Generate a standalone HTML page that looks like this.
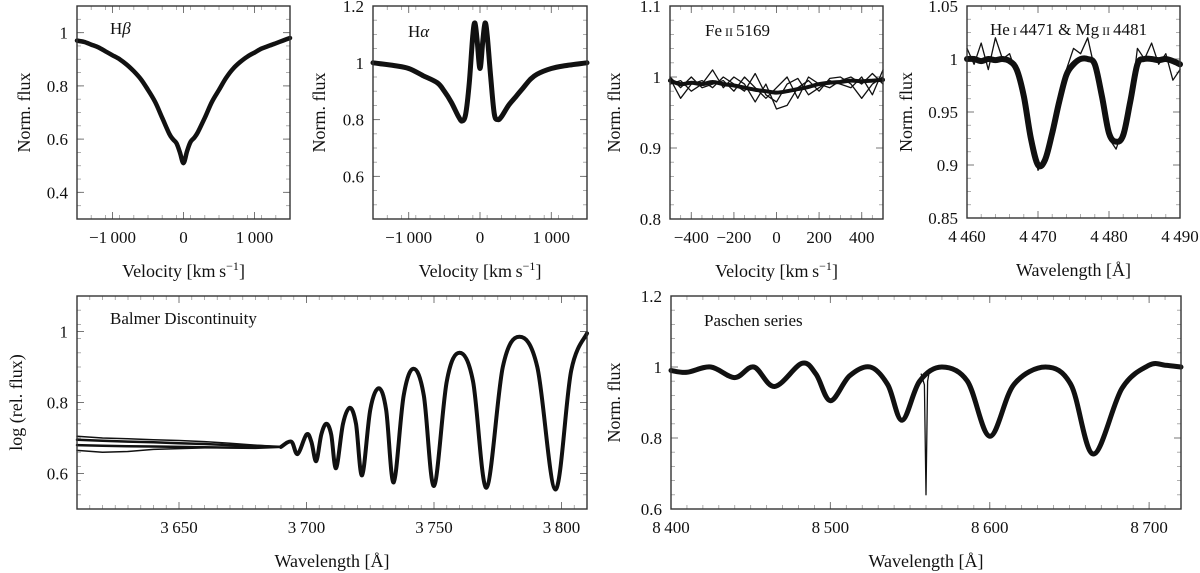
<!DOCTYPE html>
<html><head><meta charset="utf-8"><style>
html,body{margin:0;padding:0;background:#fff;}
svg{display:block;}
svg text{font-family:"Liberation Serif","DejaVu Serif",serif;}
</style></head><body>
<svg id="fig" width="1200" height="573" viewBox="0 0 1200 573" font-family="Liberation Serif, serif" xmlns="http://www.w3.org/2000/svg"></svg>
<script>
// ---- data ----
const hbVel = [-1500,-1400,-1300,-1200,-1100,-1000,-900,-800,-700,-600,-500,-400,-300,-200,-150,-100,-50,0,50,100,150,200,300,400,500,600,700,800,900,1000,1100,1200,1300,1400,1500];
const hbFlux = [0.97,0.965,0.955,0.945,0.93,0.915,0.9,0.88,0.855,0.825,0.785,0.74,0.68,0.62,0.6,0.585,0.55,0.51,0.555,0.59,0.605,0.625,0.68,0.74,0.785,0.83,0.865,0.89,0.91,0.925,0.94,0.95,0.96,0.97,0.98];
const haVel = [-1500,-1200,-1000,-800,-600,-500,-400,-300,-250,-200,-150,-100,-70,-40,0,40,70,100,150,200,250,300,400,500,600,700,800,1000,1200,1500];
const haFlux = [1.0,0.99,0.98,0.955,0.93,0.9,0.86,0.81,0.795,0.82,0.93,1.1,1.14,1.08,0.98,1.08,1.14,1.1,0.95,0.82,0.8,0.81,0.85,0.88,0.91,0.94,0.96,0.98,0.99,1.0];
const feVel = [-500,-450,-400,-350,-300,-250,-200,-150,-100,-50,0,50,100,150,200,250,300,350,400,450,500];
const feFlux1 = [0.995,0.99,0.992,0.99,0.993,0.99,0.988,0.985,0.982,0.98,0.978,0.98,0.983,0.986,0.99,0.992,0.993,0.995,0.994,0.995,0.996];
const feFlux2 = [0.998,0.97,0.99,0.995,0.985,1.0,0.99,0.98,1.005,0.975,0.965,0.99,0.998,0.975,0.985,0.995,0.99,0.985,1.0,0.975,1.01];
const feFlux3 = [0.99,0.995,0.98,0.99,1.01,0.985,1.0,0.99,0.965,0.99,0.955,0.96,0.985,0.995,0.98,0.998,1.0,0.99,0.97,0.99,1.0];
const feFlux4 = [1.0,0.985,1.0,0.985,0.99,0.995,0.98,1.0,0.985,0.97,0.985,1.0,0.97,1.0,0.99,0.985,0.995,1.0,0.99,1.005,0.99];
const heWave = [4460,4461,4462,4463,4464,4465,4466,4467,4468,4469,4470,4471,4472,4473,4474,4475,4476,4477,4478,4479,4480,4481,4482,4483,4484,4485,4486,4487,4488,4489,4490];
const heFlux = [1.0,1.0,0.998,1.0,0.999,1.0,0.998,0.99,0.965,0.925,0.9,0.905,0.93,0.96,0.985,0.995,1.0,1.0,0.995,0.965,0.93,0.922,0.928,0.96,0.995,1.0,1.0,0.999,1.0,0.998,0.995];
const heNoisy = [1.01,0.995,1.015,0.99,1.02,1.0,1.005,0.985,0.96,0.93,0.895,0.91,0.925,0.965,0.99,1.01,1.005,1.02,0.99,0.97,0.925,0.915,0.935,0.955,1.01,1.0,1.015,0.995,1.005,0.98,0.99];
const bdWave = [3690,3694,3696.5,3700,3701.9,3703.8,3705.8,3707.8,3709.7,3711.6,3714.3,3717,3719.4,3721.8,3725,3728.3,3731.2,3734.2,3738.1,3742,3746,3750,3755,3760,3765.3,3770.6,3777,3783.5,3790.5,3797.6,3803.8,3810];
const bdFlux = [0.675,0.69,0.655,0.71,0.69,0.635,0.71,0.74,0.71,0.615,0.74,0.785,0.74,0.595,0.78,0.84,0.78,0.575,0.82,0.895,0.82,0.565,0.86,0.94,0.86,0.56,0.9,0.985,0.9,0.555,0.89,0.995];
const bdFlatWave = [3610,3620,3630,3640,3650,3660,3670,3680,3690];
const bdFlatA = [0.705,0.70,0.698,0.695,0.693,0.69,0.685,0.68,0.675];
const bdFlatB = [0.695,0.692,0.69,0.688,0.685,0.683,0.68,0.678,0.675];
const bdFlatC = [0.68,0.678,0.677,0.676,0.675,0.674,0.673,0.672,0.675];
const bdFlatD = [0.665,0.66,0.662,0.668,0.67,0.672,0.673,0.674,0.675];
const paWave = [8400,8410,8425,8440,8452,8465,8482,8491,8500,8512,8525,8536,8545,8556,8570,8586,8600,8615,8635,8651,8665,8683,8700,8710,8720];
const paFlux = [0.99,0.985,1.0,0.97,1.0,0.945,1.01,0.98,0.905,0.975,1.0,0.95,0.85,0.96,1.0,0.96,0.805,0.95,1.0,0.95,0.755,0.94,1.005,1.005,1.0];
const paSpikeWave = [8557,8559,8560,8561,8562];
const paSpikeFlux = [0.98,0.95,0.64,0.96,0.985];

const svg = document.getElementById('fig');
const NS = 'http://www.w3.org/2000/svg';
function mk(tag, attrs, parent){const e=document.createElementNS(NS,tag);for(const k in attrs)e.setAttribute(k,attrs[k]);(parent||svg).appendChild(e);return e;}
function fmt(v){let s=Math.abs(v).toString();if(Math.abs(v)>=1000){s=s.slice(0,-3)+'\u2009'+s.slice(-3);}return (v<0?'\u2212':'')+s;}
function smoothPath(P){
  let d='M'+P[0][0].toFixed(1)+','+P[0][1].toFixed(1);
  for(let i=0;i<P.length-1;i++){
    const p0=P[Math.max(0,i-1)],p1=P[i],p2=P[i+1],p3=P[Math.min(P.length-1,i+2)];
    const c1=[p1[0]+(p2[0]-p0[0])/6,p1[1]+(p2[1]-p0[1])/6];
    const c2=[p2[0]-(p3[0]-p1[0])/6,p2[1]-(p3[1]-p1[1])/6];
    d+='C'+c1[0].toFixed(1)+','+c1[1].toFixed(1)+' '+c2[0].toFixed(1)+','+c2[1].toFixed(1)+' '+p2[0].toFixed(1)+','+p2[1].toFixed(1);
  }
  return d;
}

function makePanel(p){
  const g = mk('g',{});
  
  
  const sx = v => p.x0 + (v-p.xmin)/(p.xmax-p.xmin)*(p.x1-p.x0);
  const sy = v => p.y1 - (v-p.ymin)/(p.ymax-p.ymin)*(p.y1-p.y0);
  const mt = mk('g',{stroke:'#999','stroke-width':0.8},g);
  
  
  for(let v=p.xmin; v<=p.xmax+1e-9; v+=p.xminor){const X=sx(v);mk('line',{x1:X,x2:X,y1:p.y1,y2:p.y1-4},mt);mk('line',{x1:X,x2:X,y1:p.y0,y2:p.y0+4},mt);}
  for(let v=p.ymin; v<=p.ymax+1e-9; v+=p.yminor){const Y=sy(v);mk('line',{x1:p.x0,x2:p.x0+4,y1:Y,y2:Y},mt);mk('line',{x1:p.x1,x2:p.x1-4,y1:Y,y2:Y},mt);}
  const tk = mk('g',{stroke:'#777','stroke-width':1},g);
  
  
  p.xticks.forEach(v=>{const X=sx(v);mk('line',{x1:X,x2:X,y1:p.y1,y2:p.y1-7},tk);mk('line',{x1:X,x2:X,y1:p.y0,y2:p.y0+7},tk);
    const t=mk('text',{x:X,y:p.y1+24,'text-anchor':'middle','font-size':17,fill:'#111'},g);t.textContent=fmt(v);
    
    });
  p.yticks.forEach(v=>{const Y=sy(v);mk('line',{x1:p.x0,x2:p.x0+7,y1:Y,y2:Y},tk);mk('line',{x1:p.x1,x2:p.x1-7,y1:Y,y2:Y},tk);
    const t=mk('text',{x:p.x0-9,y:Y+6,'text-anchor':'end','font-size':17,fill:'#111'},g);t.textContent=p.ylab(v);
    
    });
  p.series.forEach(s=>{
    const P=s.x.map((xv,i)=>[sx(xv),sy(s.y[i])]);
    let d;
    if(s.smooth){d=smoothPath(P);}else{d='';P.forEach((q,i)=>{d+=(i?'L':'M')+q[0].toFixed(1)+','+q[1].toFixed(1);});}
    const path=mk('path',{d:d,fill:'none',stroke:'#111','stroke-width':s.w,'stroke-linejoin':'round','stroke-linecap':'round'},g);
    
    
  });
  const fr=mk('rect',{x:p.x0,y:p.y0,width:p.x1-p.x0,height:p.y1-p.y0,fill:'none',stroke:'#333','stroke-width':1.4},g);
  
  
  const xl=mk('text',{x:(p.x0+p.x1)/2,y:p.y1+58,'text-anchor':'middle','font-size':18,fill:'#111'},g);
  xl.innerHTML=p.xlabel;
  
  
  const yl=mk('text',{x:0,y:0,'text-anchor':'middle','font-size':18,fill:'#111',transform:`translate(${p.ylx},${(p.y0+p.y1)/2}) rotate(-90)`},g);
  yl.textContent=p.ylabel;
  
  
  const tl=mk('text',{x:p.tx,y:p.ty,'font-size':17,fill:'#111'},g);
  tl.innerHTML=p.title;
  
  
}
const vel='Velocity [km\u2009s<tspan dy="-7" font-size="12">\u22121</tspan><tspan dy="7">]</tspan>';
const wav='Wavelength [\u00C5]';
const f1=v=>v===1?'1':v.toFixed(1);
const f2=v=>v===1?'1':(Math.round(v*100)%10===0?v.toFixed(1):v.toFixed(2));
makePanel({name:'h-beta-panel',x0:77,x1:290,y0:6,y1:219,xmin:-1500,xmax:1500,ymin:0.3,ymax:1.1,xticks:[-1000,0,1000],yticks:[0.4,0.6,0.8,1],xminor:200,yminor:0.05,ylab:f1,xlabel:vel,ylabel:'Norm. flux',ylx:30,title:'H<tspan font-style="italic">β</tspan>',tx:110,ty:34,
  series:[{name:'h-beta-spectra',x:hbVel,y:hbFlux,w:4.5,smooth:true}]});
makePanel({name:'h-alpha-panel',x0:373,x1:587,y0:6,y1:219,xmin:-1500,xmax:1500,ymin:0.45,ymax:1.2,xticks:[-1000,0,1000],yticks:[0.6,0.8,1,1.2],xminor:200,yminor:0.05,ylab:f1,xlabel:vel,ylabel:'Norm. flux',ylx:325,title:'H<tspan font-style="italic">α</tspan>',tx:408,ty:37,
  series:[{name:'h-alpha-spectra',x:haVel,y:haFlux,w:5,smooth:true}]});
makePanel({name:'fe-ii-panel',x0:670,x1:883,y0:6,y1:219,xmin:-500,xmax:500,ymin:0.8,ymax:1.1,xticks:[-400,-200,0,200,400],yticks:[0.8,0.9,1,1.1],xminor:50,yminor:0.02,ylab:f1,xlabel:vel,ylabel:'Norm. flux',ylx:620,title:'Fe<tspan font-size="12"> II </tspan>5169',tx:705,ty:36,
  series:[{name:'fe-ii-spectrum-1',x:feVel,y:feFlux1,w:4,smooth:true},{name:'fe-ii-spectrum-2',x:feVel,y:feFlux2,w:1.3},{name:'fe-ii-spectrum-3',x:feVel,y:feFlux3,w:1.3},{name:'fe-ii-spectrum-4',x:feVel,y:feFlux4,w:1.3}]});
makePanel({name:'he-i-mg-ii-panel',x0:967,x1:1180,y0:6,y1:218,xmin:4460,xmax:4490,ymin:0.85,ymax:1.05,xticks:[4460,4470,4480,4490],yticks:[0.85,0.9,0.95,1,1.05],xminor:2,yminor:0.0125,ylab:f2,xlabel:wav,ylabel:'Norm. flux',ylx:912,title:'He<tspan font-size="12"> I </tspan>4471 &amp; Mg<tspan font-size="12"> II </tspan>4481',tx:990,ty:35,
  series:[{name:'he-mg-spectra',x:heWave,y:heFlux,w:6,smooth:true},{name:'he-mg-noisy-spectrum',x:heWave,y:heNoisy,w:1.3}]});
makePanel({name:'balmer-discontinuity-panel',x0:77,x1:587,y0:296,y1:509,xmin:3610,xmax:3810,ymin:0.5,ymax:1.1,xticks:[3650,3700,3750,3800],yticks:[0.6,0.8,1],xminor:5,yminor:0.04,ylab:f1,xlabel:wav,ylabel:'log (rel. flux)',ylx:22,title:'Balmer Discontinuity',tx:110,ty:324,
  series:[{name:'balmer-flat-a',x:bdFlatWave,y:bdFlatA,w:1.5},{name:'balmer-flat-b',x:bdFlatWave,y:bdFlatB,w:2.5},{name:'balmer-flat-c',x:bdFlatWave,y:bdFlatC,w:2.5},{name:'balmer-flat-d',x:bdFlatWave,y:bdFlatD,w:1.5},{name:'balmer-lines-spectra',x:bdWave,y:bdFlux,w:4,smooth:true}]});
makePanel({name:'paschen-panel',x0:671,x1:1181,y0:296,y1:509,xmin:8400,xmax:8720,ymin:0.6,ymax:1.2,xticks:[8400,8500,8600,8700],yticks:[0.6,0.8,1,1.2],xminor:10,yminor:0.04,ylab:f1,xlabel:wav,ylabel:'Norm. flux',ylx:620,title:'Paschen series',tx:704,ty:326,
  series:[{name:'paschen-spectra',x:paWave,y:paFlux,w:5,smooth:true},{name:'paschen-spike',x:paSpikeWave,y:paSpikeFlux,w:1.3}]});
</script>
</body></html>
